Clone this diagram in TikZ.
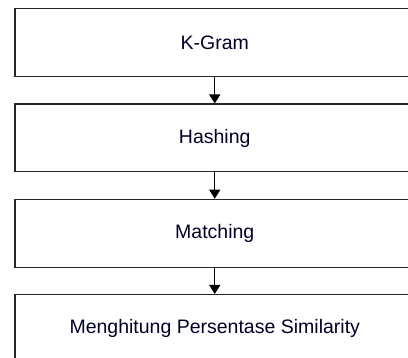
\documentclass[tikz,border=0pt]{standalone}
\usepackage{fontspec}
\setmainfont{Liberation Sans}
\usetikzlibrary{arrows.meta}
\begin{document}
\begin{tikzpicture}[x=1pt,y=-1pt,
  stepbox/.style={draw=black!85,line width=1.5pt,minimum width=400pt,minimum height=68pt,inner sep=0pt,font=\fontsize{19.5}{23}\selectfont,anchor=north west,text=black!85!blue},
  flow/.style={draw=black,line width=1.3pt,-{Triangle[length=9pt,width=11pt]}}]
\clip (0,0) rectangle (408,358);
\useasboundingbox (0,0) rectangle (408,358);
\node[stepbox] (k) at (14,8) {K-Gram};
\node[stepbox,minimum height=67.5pt] (h) at (14,103.5) {Hashing};
\node[stepbox] (m) at (14,198.7) {Matching};
\node[stepbox] (p) at (14,294) {Menghitung Persentase Similarity};
\draw[flow] (k.south) -- (h.north);
\draw[flow] (h.south) -- (m.north);
\draw[flow] (m.south) -- (p.north);
\end{tikzpicture}
\end{document}
